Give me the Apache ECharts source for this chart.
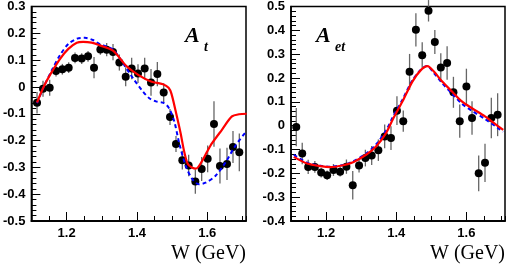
<!DOCTYPE html>
<html><head><meta charset="utf-8">
<script src="https://cdn.jsdelivr.net/npm/echarts@6/dist/echarts.min.js"></script>
<style>html,body{margin:0;padding:0;background:#fff}#c{width:508px;height:265px}</style>
</head><body><div id="c"></div>
<script>
// Left panel A_t : [W, value, error]
const atPoints = [
[1.116,-0.059,0.04],[1.133,-0.007,0.03],[1.152,-0.003,0.03],[1.170,0.059,0.02],[1.188,0.066,0.02],
[1.206,0.072,0.02],[1.224,0.108,0.02],[1.243,0.106,0.02],[1.261,0.114,0.02],[1.278,0.072,0.04],
[1.296,0.140,0.02],[1.314,0.139,0.025],[1.332,0.130,0.03],[1.350,0.091,0.03],[1.368,0.038,0.035],
[1.385,0.069,0.04],[1.403,0.050,0.035],[1.422,0.069,0.04],[1.440,0.017,0.05],[1.458,0.048,0.045],
[1.476,-0.021,0.035],[1.494,-0.112,0.03],[1.511,-0.213,0.03],[1.529,-0.273,0.035],[1.547,-0.293,0.04],
[1.566,-0.353,0.045],[1.584,-0.306,0.045],[1.601,-0.268,0.05],[1.619,-0.138,0.085],[1.636,-0.295,0.065],
[1.656,-0.287,0.06],[1.673,-0.224,0.06],[1.691,-0.244,0.07]
];
const atRed = [
[1.116,-0.058],[1.135,0.001],[1.158,0.056],[1.182,0.106],[1.205,0.142],[1.229,0.165],[1.247,0.168],
[1.271,0.165],[1.294,0.155],[1.332,0.135],[1.37,0.078],[1.407,0.042],[1.44,0.02],[1.474,0.010],
[1.49,-0.003],[1.498,-0.025],[1.51,-0.09],[1.524,-0.172],[1.535,-0.245],[1.546,-0.29],[1.567,-0.305],
[1.585,-0.277],[1.6,-0.24],[1.614,-0.209],[1.642,-0.159],[1.67,-0.11],[1.69,-0.102],[1.712,-0.100]
];
const atBlue = [
[1.116,-0.06],[1.135,0.0],[1.158,0.062],[1.182,0.12],[1.205,0.16],[1.23,0.18],[1.252,0.183],
[1.275,0.175],[1.294,0.16],[1.315,0.15],[1.332,0.14],[1.352,0.106],[1.37,0.069],[1.389,0.032],
[1.417,-0.017],[1.435,-0.042],[1.454,-0.054],[1.477,-0.06],[1.491,-0.079],[1.506,-0.128],[1.52,-0.209],
[1.539,-0.295],[1.558,-0.345],[1.576,-0.363],[1.595,-0.357],[1.623,-0.332],[1.651,-0.283],
[1.679,-0.221],[1.707,-0.172]
];
// Right panel A_et
const aetPoints = [
[1.115,-0.006,0.08],[1.132,-0.117,0.045],[1.149,-0.173,0.03],[1.168,-0.173,0.025],[1.186,-0.197,0.02],
[1.203,-0.208,0.02],[1.221,-0.186,0.025],[1.240,-0.193,0.02],[1.258,-0.172,0.03],[1.276,-0.250,0.06],
[1.294,-0.167,0.03],[1.312,-0.136,0.035],[1.330,-0.125,0.04],[1.349,-0.103,0.045],[1.367,-0.045,0.05],
[1.385,-0.052,0.05],[1.402,0.063,0.06],[1.420,0.019,0.045],[1.438,0.226,0.075],[1.456,0.402,0.07],
[1.474,0.295,0.055],[1.492,0.482,0.045],[1.510,0.351,0.05],[1.527,0.244,0.06],[1.545,0.263,0.07],
[1.563,0.140,0.065],[1.581,0.019,0.07],[1.600,0.164,0.075],[1.616,0.032,0.07],[1.635,-0.200,0.075],
[1.653,-0.156,0.08],[1.671,0.032,0.085],[1.689,0.046,0.09]
];
const aetRed = [
[1.108,-0.131],[1.146,-0.159],[1.184,-0.17],[1.212,-0.174],[1.249,-0.166],[1.277,-0.153],[1.315,-0.121],
[1.343,-0.086],[1.371,-0.031],[1.39,0.026],[1.418,0.102],[1.446,0.185],[1.47,0.233],[1.489,0.25],
[1.508,0.226],[1.531,0.185],[1.559,0.143],[1.587,0.102],[1.615,0.074],[1.653,0.039],[1.69,-0.002],[1.705,-0.018]
];
const aetBlue = [
[1.108,-0.122],[1.146,-0.155],[1.184,-0.168],[1.212,-0.172],[1.249,-0.165],[1.277,-0.15],[1.315,-0.116],
[1.343,-0.078],[1.371,-0.02],[1.39,0.035],[1.418,0.11],[1.446,0.19],[1.47,0.235],[1.487,0.25],
[1.508,0.22],[1.531,0.178],[1.559,0.135],[1.587,0.092],[1.615,0.063],[1.653,0.028],[1.69,-0.01],[1.705,-0.025]
];
const xTickLabels = [1.2, 1.4, 1.6];
const xTitle = 'W (GeV)';

const chart = echarts.init(document.getElementById('c'), null, {renderer:'canvas'});
const lblFont = {fontFamily:'Liberation Sans', fontWeight:'bold', fontSize:13, color:'#000'};
function xAxes(gi){
  return [
    {type:'value', gridIndex:gi, min:1.1, max:1.71, interval:0.05, position:'bottom',
     axisLine:{onZero:false, lineStyle:{color:'#000', width:1.5}}, axisTick:{inside:true, length:5, lineStyle:{color:'#000'}},
     axisLabel:{show:false}, splitLine:{show:false}},
    {type:'value', gridIndex:gi, min:1.1, max:1.71, position:'bottom',
     axisLine:{onZero:false, lineStyle:{color:'#000', width:1.5}},
     axisTick:{inside:true, length:9, customValues:xTickLabels, lineStyle:{color:'#000'}},
     axisLabel:Object.assign({customValues:xTickLabels, margin:6}, lblFont), splitLine:{show:false}}
  ];
}
function yAxis(gi, mn, mx){
  return {type:'value', gridIndex:gi, min:mn, max:mx, interval:0.1,
    axisLine:{onZero:false, lineStyle:{color:'#000', width:1.5}},
    axisTick:{inside:true, length:9, lineStyle:{color:'#000'}},
    minorTick:{show:true, splitNumber:5, length:5, lineStyle:{color:'#000'}},
    axisLabel:Object.assign({margin:6, formatter:v=>{const r=Math.round(v*10)/10; return r===0?'0':r.toFixed(1);}}, lblFont),
    splitLine:{show:false}, minorSplitLine:{show:false}};
}
function errSeries(xi, yi, data){
  return {type:'custom', xAxisIndex:xi, yAxisIndex:yi, data:data, encode:{x:0, y:1}, silent:true, z:3,
    renderItem:function(params, api){
      const x = api.value(0), y = api.value(1), e = api.value(2);
      const p1 = api.coord([x, y+e]), p2 = api.coord([x, y-e]);
      return {type:'line', shape:{x1:p1[0], y1:p1[1], x2:p2[0], y2:p2[1]}, style:{stroke:'#666', lineWidth:1.3}};
    }};
}
function pts(xi, yi, data){
  return {type:'scatter', xAxisIndex:xi, yAxisIndex:yi, data:data.map(d=>[d[0],d[1]]), symbol:'circle', symbolSize:8,
    itemStyle:{color:'#000', opacity:1}, z:4, silent:true};
}
function curve(xi, yi, data, color, dashed){
  return {type:'line', xAxisIndex:xi, yAxisIndex:yi, data:data, showSymbol:false, smooth:0.3, z:5, clip:true, silent:true,
    lineStyle:{color:color, width:dashed?2:2.2, type:dashed?[4,3]:'solid'}};
}
const option = {
  animation:false,
  grid:[
    {left:31, top:4, width:215, height:217, show:true, borderColor:'#000', borderWidth:1.5},
    {left:291, top:4, width:214, height:217, show:true, borderColor:'#000', borderWidth:1.5}
  ],
  xAxis:[...xAxes(0), ...xAxes(1)],
  yAxis:[yAxis(0,-0.5,0.3), yAxis(1,-0.4,0.5)],
  series:[
    errSeries(0,0,atPoints), pts(0,0,atPoints),
    curve(0,0,atBlue,'#0000ff',true), curve(0,0,atRed,'#ff0000',false),
    errSeries(2,1,aetPoints), pts(2,1,aetPoints),
    curve(2,1,aetBlue,'#0000ff',true), curve(2,1,aetRed,'#ff0000',false)
  ],
  graphic:[
    {type:'text', x:246, y:264, style:{text:xTitle, font:'20px "Liberation Serif"', fill:'#000', align:'right', verticalAlign:'bottom'}},
    {type:'text', x:505, y:264, style:{text:xTitle, font:'20px "Liberation Serif"', fill:'#000', align:'right', verticalAlign:'bottom'}},
    {type:'text', x:185, y:25, style:{text:'A', font:'italic bold 22px "Liberation Serif"', fill:'#000'}},
    {type:'text', x:204, y:40, style:{text:'t', font:'italic bold 14px "Liberation Serif"', fill:'#000'}},
    {type:'text', x:316, y:25, style:{text:'A', font:'italic bold 22px "Liberation Serif"', fill:'#000'}},
    {type:'text', x:335, y:40, style:{text:'et', font:'italic bold 14px "Liberation Serif"', fill:'#000'}}
  ]
};
chart.setOption(option);
</script></body></html>
